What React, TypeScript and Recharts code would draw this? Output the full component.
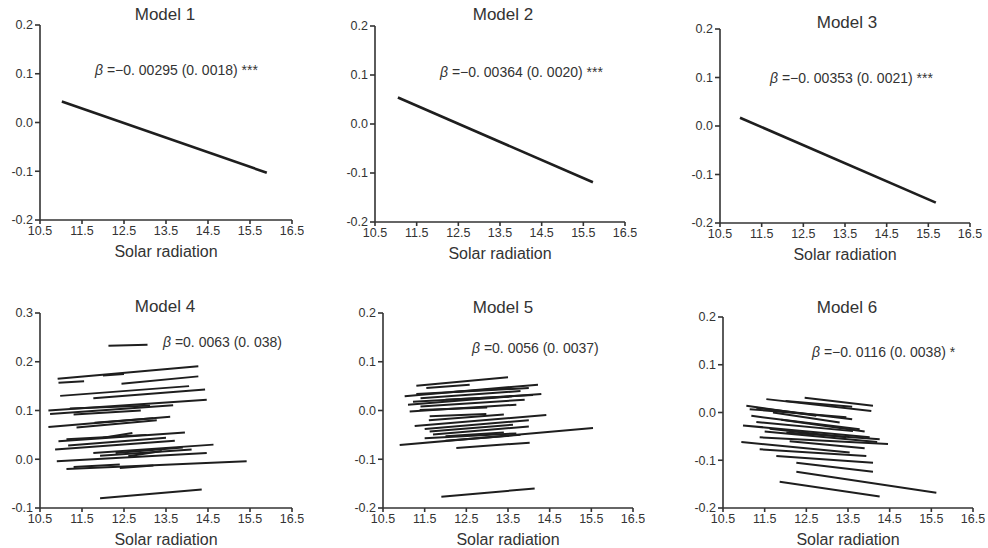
import { ComposedChart, Line, XAxis, YAxis } from "recharts";

// segments: [x1, y1, x2, y2]
type Seg = [number, number, number, number];

const xTicks = [10.5, 11.5, 12.5, 13.5, 14.5, 15.5, 16.5];
const yTicksTop = [-0.2, -0.1, 0, 0.1, 0.2];
const yTicksM4 = [-0.1, 0, 0.1, 0.2, 0.3];

const titles = ["Model 1", "Model 2", "Model 3", "Model 4", "Model 5", "Model 6"];
const betas = ["=−0. 00295 (0. 0018) ***", "=−0. 00364 (0. 0020) ***", "=−0. 00353 (0. 0021) ***", "=0. 0063 (0. 038)", "=0. 0056 (0. 0037)", "=−0. 0116 (0. 0038) *"];

const model1: Seg[] = [[11.02, 0.043, 15.9, -0.103]];
const model2: Seg[] = [[11.05, 0.054, 15.73, -0.119]];
const model3: Seg[] = [[10.98, 0.017, 15.68, -0.158]];

const model4: Seg[] = [
  [12.13, 0.233, 13.06, 0.235],
  [10.92, 0.165, 14.27, 0.191],
  [10.94, 0.157, 11.55, 0.16],
  [12.0, 0.172, 12.5, 0.175],
  [12.44, 0.155, 14.27, 0.17],
  [10.98, 0.13, 14.05, 0.15],
  [11.77, 0.125, 14.43, 0.143],
  [10.7, 0.1, 14.47, 0.122],
  [10.74, 0.093, 13.67, 0.111],
  [11.21, 0.104, 13.12, 0.11],
  [11.3, 0.092, 12.9, 0.1],
  [10.7, 0.066, 13.6, 0.087],
  [11.37, 0.065, 13.28, 0.08],
  [11.8, 0.075, 13.2, 0.084],
  [10.94, 0.037, 13.95, 0.055],
  [11.13, 0.041, 13.04, 0.05],
  [12.0, 0.044, 12.7, 0.054],
  [11.17, 0.028, 13.5, 0.044],
  [10.86, 0.02, 13.71, 0.038],
  [11.77, 0.013, 14.63, 0.03],
  [11.93, 0.007, 14.11, 0.02],
  [12.6, 0.006, 13.4, 0.017],
  [12.3, 0.013, 13.9, 0.024],
  [10.9, -0.004, 14.47, 0.013],
  [11.13, -0.02, 15.42, -0.004],
  [11.3, -0.016, 12.4, -0.011],
  [12.4, -0.018, 13.2, -0.013],
  [11.93, -0.08, 14.35, -0.062],
];

const model5: Seg[] = [
  [11.3, 0.051, 13.5, 0.068],
  [11.54, 0.046, 12.58, 0.053],
  [11.02, 0.029, 14.22, 0.053],
  [11.3, 0.034, 14.0, 0.046],
  [12.14, 0.038, 13.58, 0.046],
  [11.4, 0.025, 13.8, 0.04],
  [11.1, 0.012, 14.3, 0.034],
  [11.22, 0.018, 14.1, 0.032],
  [12.0, 0.022, 13.6, 0.029],
  [11.4, 0.008, 13.9, 0.022],
  [11.14, -0.002, 13.7, 0.012],
  [11.38, 0.001, 13.0, 0.006],
  [11.62, -0.012, 12.98, -0.007],
  [11.6, -0.02, 13.4, -0.008],
  [11.26, -0.032, 14.42, -0.009],
  [11.5, -0.038, 14.0, -0.02],
  [11.62, -0.043, 13.62, -0.029],
  [11.7, -0.049, 14.0, -0.033],
  [11.5, -0.057, 13.7, -0.047],
  [12.0, -0.053, 13.4, -0.045],
  [12.0, -0.062, 13.8, -0.05],
  [10.9, -0.071, 15.54, -0.036],
  [12.26, -0.077, 14.02, -0.066],
  [11.9, -0.177, 14.14, -0.16],
];

const model6: Seg[] = [
  [12.46, 0.031, 14.1, 0.014],
  [11.54, 0.028, 14.06, 0.003],
  [12.0, 0.024, 13.6, 0.012],
  [11.06, 0.014, 12.74, -0.007],
  [11.3, 0.01, 13.6, -0.014],
  [11.14, 0.007, 13.46, -0.01],
  [11.7, 0.0, 13.3, -0.021],
  [11.9, -0.015, 13.9, -0.04],
  [11.18, -0.007, 13.78, -0.035],
  [11.3, -0.02, 13.62, -0.039],
  [10.98, -0.027, 14.02, -0.052],
  [11.5, -0.04, 14.2, -0.062],
  [11.62, -0.034, 13.46, -0.052],
  [12.02, -0.042, 14.26, -0.056],
  [11.38, -0.052, 14.46, -0.066],
  [12.1, -0.06, 13.9, -0.075],
  [10.94, -0.062, 13.54, -0.084],
  [11.38, -0.077, 13.94, -0.091],
  [11.78, -0.091, 14.1, -0.105],
  [12.26, -0.105, 14.1, -0.124],
  [12.26, -0.124, 15.62, -0.168],
  [11.86, -0.145, 14.26, -0.176],
];

const font = "'Liberation Sans', Arial, sans-serif";
const axisColor = "#333";
const textColor = "#333";

type Layout = {
  x0: number; x1: number; y0: number; y1: number;
  titleX: number; titleY: number; noteX: number; noteY: number;
};

const layouts: Layout[] = [
  { x0: 40, x1: 292, y0: 25, y1: 220, titleX: 165, titleY: 15, noteX: 95, noteY: 70 },
  { x0: 375, x1: 625, y0: 26, y1: 222, titleX: 503, titleY: 15, noteX: 440, noteY: 72 },
  { x0: 720, x1: 970, y0: 29, y1: 223, titleX: 847, titleY: 23, noteX: 770, noteY: 78 },
  { x0: 40, x1: 292, y0: 313, y1: 508, titleX: 165, titleY: 307, noteX: 163, noteY: 342 },
  { x0: 383, x1: 633, y0: 313, y1: 508, titleX: 503, titleY: 308, noteX: 472, noteY: 348 },
  { x0: 723, x1: 973, y0: 317, y1: 508, titleX: 847, titleY: 308, noteX: 812, noteY: 352 },
];

function Panel({ segs, lay, yTicks, title, beta, width }: {
  segs: Seg[]; lay: Layout; yTicks: number[]; title: string; beta: string; width: number;
}) {
  const w = lay.x1 - lay.x0 + 40 + 12;
  const h = lay.y1 - lay.y0 + 10 + 40;
  return (
    <>
      <div style={{ position: "absolute", left: lay.x0 - 40, top: lay.y0 - 10 }}>
        <ComposedChart width={w} height={h} margin={{ top: 10, right: 12, left: 0, bottom: 0 }}>
          <XAxis
            type="number"
            dataKey="x"
            domain={[10.5, 16.5]}
            ticks={xTicks}
            allowDataOverflow
            tickFormatter={(v) => v.toFixed(1)}
            tick={{ fontSize: 12.5, fill: textColor, fontFamily: font }}
            axisLine={{ stroke: axisColor, strokeWidth: 1.6 }}
            tickLine={{ stroke: axisColor, strokeWidth: 1.6 }}
            tickSize={4}
            height={40}
            label={{ value: "Solar radiation", position: "insideBottom", offset: 3, fontSize: 16, fill: textColor, fontFamily: font }}
          />
          <YAxis
            type="number"
            dataKey="y"
            domain={[yTicks[0], yTicks[yTicks.length - 1]]}
            ticks={yTicks}
            allowDataOverflow
            tickFormatter={(v) => v.toFixed(1)}
            tick={{ fontSize: 12.5, fill: textColor, fontFamily: font }}
            axisLine={{ stroke: axisColor, strokeWidth: 1.6 }}
            tickLine={{ stroke: axisColor, strokeWidth: 1.6 }}
            tickSize={5}
            width={40}
          />
          {segs.map((s, i) => (
            <Line
              key={i}
              data={[{ x: s[0], y: s[1] }, { x: s[2], y: s[3] }]}
              dataKey="y"
              type="linear"
              stroke="#1e1e1e"
              strokeWidth={width}
              dot={false}
              activeDot={false}
              isAnimationActive={false}
            />
          ))}
        </ComposedChart>
      </div>
      <div style={{ position: "absolute", left: lay.titleX - 60, width: 120, top: lay.titleY - 10, textAlign: "center", fontSize: 17, color: textColor, fontFamily: font, lineHeight: "20px" }}>
        {title}
      </div>
      <div style={{ position: "absolute", left: lay.noteX, top: lay.noteY - 9, fontSize: 14, color: textColor, fontFamily: font, whiteSpace: "nowrap", lineHeight: "18px" }}>
        <i>β</i> {beta}
      </div>
    </>
  );
}

export default function App() {
  const all = [model1, model2, model3, model4, model5, model6];
  return (
    <div style={{ position: "absolute", left: 0, top: 0, width: 988, height: 548, background: "#fff", overflow: "hidden" }}>
      {all.map((segs, i) => (
        <Panel
          key={i}
          segs={segs}
          lay={layouts[i]}
          yTicks={i === 3 ? yTicksM4 : yTicksTop}
          title={titles[i]}
          beta={betas[i]}
          width={i < 3 ? 2.6 : 2}
        />
      ))}
    </div>
  );
}
